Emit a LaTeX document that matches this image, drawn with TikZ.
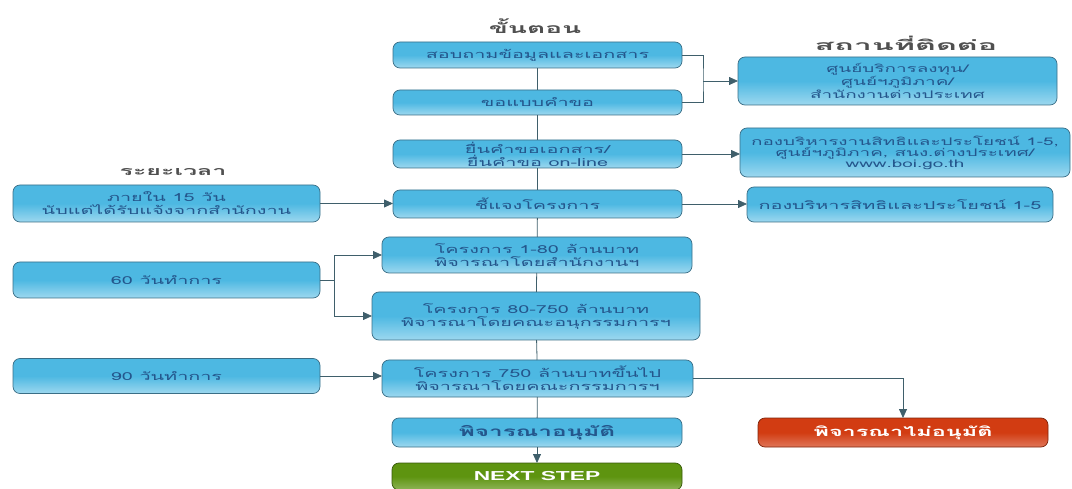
\documentclass[tikz,border=0pt]{standalone}
\usepackage{fontspec}
\newfontfamily\thaifont[Script=Thai,FakeStretch=1.8]{Loma}
\newfontfamily\headfont[Script=Thai,FakeStretch=2.0]{Loma}
\newfontfamily\headwide[Script=Thai,FakeStretch=2.3]{Loma}
\newfontfamily\latinsans[FakeStretch=1.75]{Liberation Sans}
\usetikzlibrary{arrows.meta}
\definecolor{boxblue}{HTML}{4DB8E2}
\definecolor{boxedge}{HTML}{3A6E86}
\definecolor{boxtext}{HTML}{24568C}
\definecolor{linecol}{HTML}{3F5F6B}
\definecolor{nextgreen}{HTML}{5E9410}
\definecolor{rejectred}{HTML}{D23C12}
\definecolor{headgray}{HTML}{505050}
\tikzset{
  blockbox/.style={draw=boxedge, line width=0.7pt, rounded corners=7pt,
    top color=boxblue, bottom color=boxblue!55!white, middle color=boxblue,
    text=boxtext, font=\thaifont\fontsize{11}{13}\selectfont,
    align=center, inner sep=0pt, outer sep=0pt},
  smalltext/.style={font=\thaifont\fontsize{10.5}{11}\selectfont},
  greenbox/.style={blockbox, top color=nextgreen, bottom color=nextgreen!70!white,
    middle color=nextgreen, draw=nextgreen!60!black, text=white,
    font=\latinsans\bfseries\fontsize{13}{15}\selectfont},
  redbox/.style={blockbox, top color=rejectred, bottom color=rejectred!70!white,
    middle color=rejectred, draw=rejectred!60!black, text=white,
    font=\thaifont\bfseries\fontsize{13}{15}\selectfont},
  headtext/.style={text=headgray, font=\headfont\bfseries\fontsize{14}{16}\selectfont},
  link/.style={draw=linecol, line width=0.8pt},
  linkarrow/.style={link, -{Triangle[length=9pt,width=8pt]}}
}
\begin{document}
\begin{tikzpicture}[x=1pt,y=-1pt]
\useasboundingbox (0,0) rectangle (1072,489);
% headers
\node[headtext] (hstep) at (535,26) {ขั้นตอน};
\node[headtext, font=\headwide\bfseries\fontsize{14}{16}\selectfont] (hplace) at (906,43) {สถานที่ติดต่อ};
\node[headtext, font=\headfont\bfseries\fontsize{12.5}{15}\selectfont] (htime) at (173,172) {ระยะเวลา};
% steps
\node[blockbox, minimum width=289pt, minimum height=26pt] (ask) at (537.5,55) {สอบถามข้อมูลและเอกสาร};
\node[blockbox, minimum width=289pt, minimum height=25pt] (form) at (537.5,102.5) {ขอแบบคำขอ};
\node[blockbox, minimum width=289pt, minimum height=28pt] (submit) at (537.5,154) {ยื่นคำขอเอกสาร/\\ยื่นคำขอ on-line};
\node[blockbox, minimum width=289pt, minimum height=28pt] (explain) at (537.5,204) {ชี้แจงโครงการ};
\node[blockbox, minimum width=310pt, minimum height=36pt] (small) at (537,255) {โครงการ 1-80 ล้านบาท\\พิจารณาโดยสำนักงานฯ};
\node[blockbox, minimum width=328pt, minimum height=48pt] (mid) at (536,316) {โครงการ 80-750 ล้านบาท\\พิจารณาโดยคณะอนุกรรมการฯ};
\node[blockbox, minimum width=311pt, minimum height=37pt] (large) at (537.5,378.5) {โครงการ 750 ล้านบาทขึ้นไป\\พิจารณาโดยคณะกรรมการฯ};
\node[blockbox, minimum width=290pt, minimum height=29pt, font=\thaifont\bfseries\fontsize{13.5}{15}\selectfont] (approve) at (537,432.5) {พิจารณาอนุมัติ};
\node[greenbox, minimum width=290pt, minimum height=27pt] (next) at (537,476.5) {NEXT STEP};
% contact places
\node[blockbox, smalltext, minimum width=319pt, minimum height=48pt] (office) at (897.5,81) {ศูนย์บริการลงทุน/\\ศูนย์ฯภูมิภาค/\\สำนักงานต่างประเทศ};
\node[blockbox, smalltext, minimum width=330pt, minimum height=49pt] (bureau) at (905,152.5) {กองบริหารงานสิทธิและประโยชน์ 1-5,\\ศูนย์ฯภูมิภาค, สนง.ต่างประเทศ/\\www.boi.go.th};
\node[blockbox, minimum width=306pt, minimum height=35pt] (rights) at (900,204.5) {กองบริหารสิทธิและประโยชน์ 1-5};
\node[redbox, minimum width=290pt, minimum height=29pt] (reject) at (903,432.5) {พิจารณาไม่อนุมัติ};
% time frames
\node[blockbox, minimum width=307pt, minimum height=37pt] (within) at (166.5,203.5) {ภายใน 15 วัน\\นับแต่ได้รับแจ้งจากสำนักงาน};
\node[blockbox, minimum width=307pt, minimum height=36pt] (sixty) at (166.5,280) {60 วันทำการ};
\node[blockbox, minimum width=307pt, minimum height=35pt] (ninety) at (166.5,376) {90 วันทำการ};
% main column
\path[link] (ask) -- (form);
\path[link] (form) -- (submit);
\path[link] (submit) -- (explain);
\path[link] (explain) -- (small);
\path[link] (small) -- (mid);
\path[link] (mid) -- (large);
\path[link] (large) -- (approve);
\path[linkarrow] (approve) -- (next);
% to the contact places
\coordinate (askjoin) at (703,81);
\path[link] (ask.east) -| (askjoin) |- (form.east);
\path[linkarrow] (askjoin) -- (office.west);
\path[linkarrow] (submit.east) -- (submit.east -| bureau.west);
\path[linkarrow] (explain.east) -- (explain.east -| rights.west);
\path[linkarrow] (large.east) -| (reject.north);
% from the time frames
\path[linkarrow] (within.east) -- (within.east -| explain.west);
\coordinate (sixtyjoin) at (334,280);
\path[link] (sixty.east) -- (sixtyjoin);
\path[linkarrow] (sixtyjoin) |- (small.west);
\path[linkarrow] (sixtyjoin) |- (mid.west);
\path[linkarrow] (ninety.east) -- (ninety.east -| large.west);
\end{tikzpicture}
\end{document}
